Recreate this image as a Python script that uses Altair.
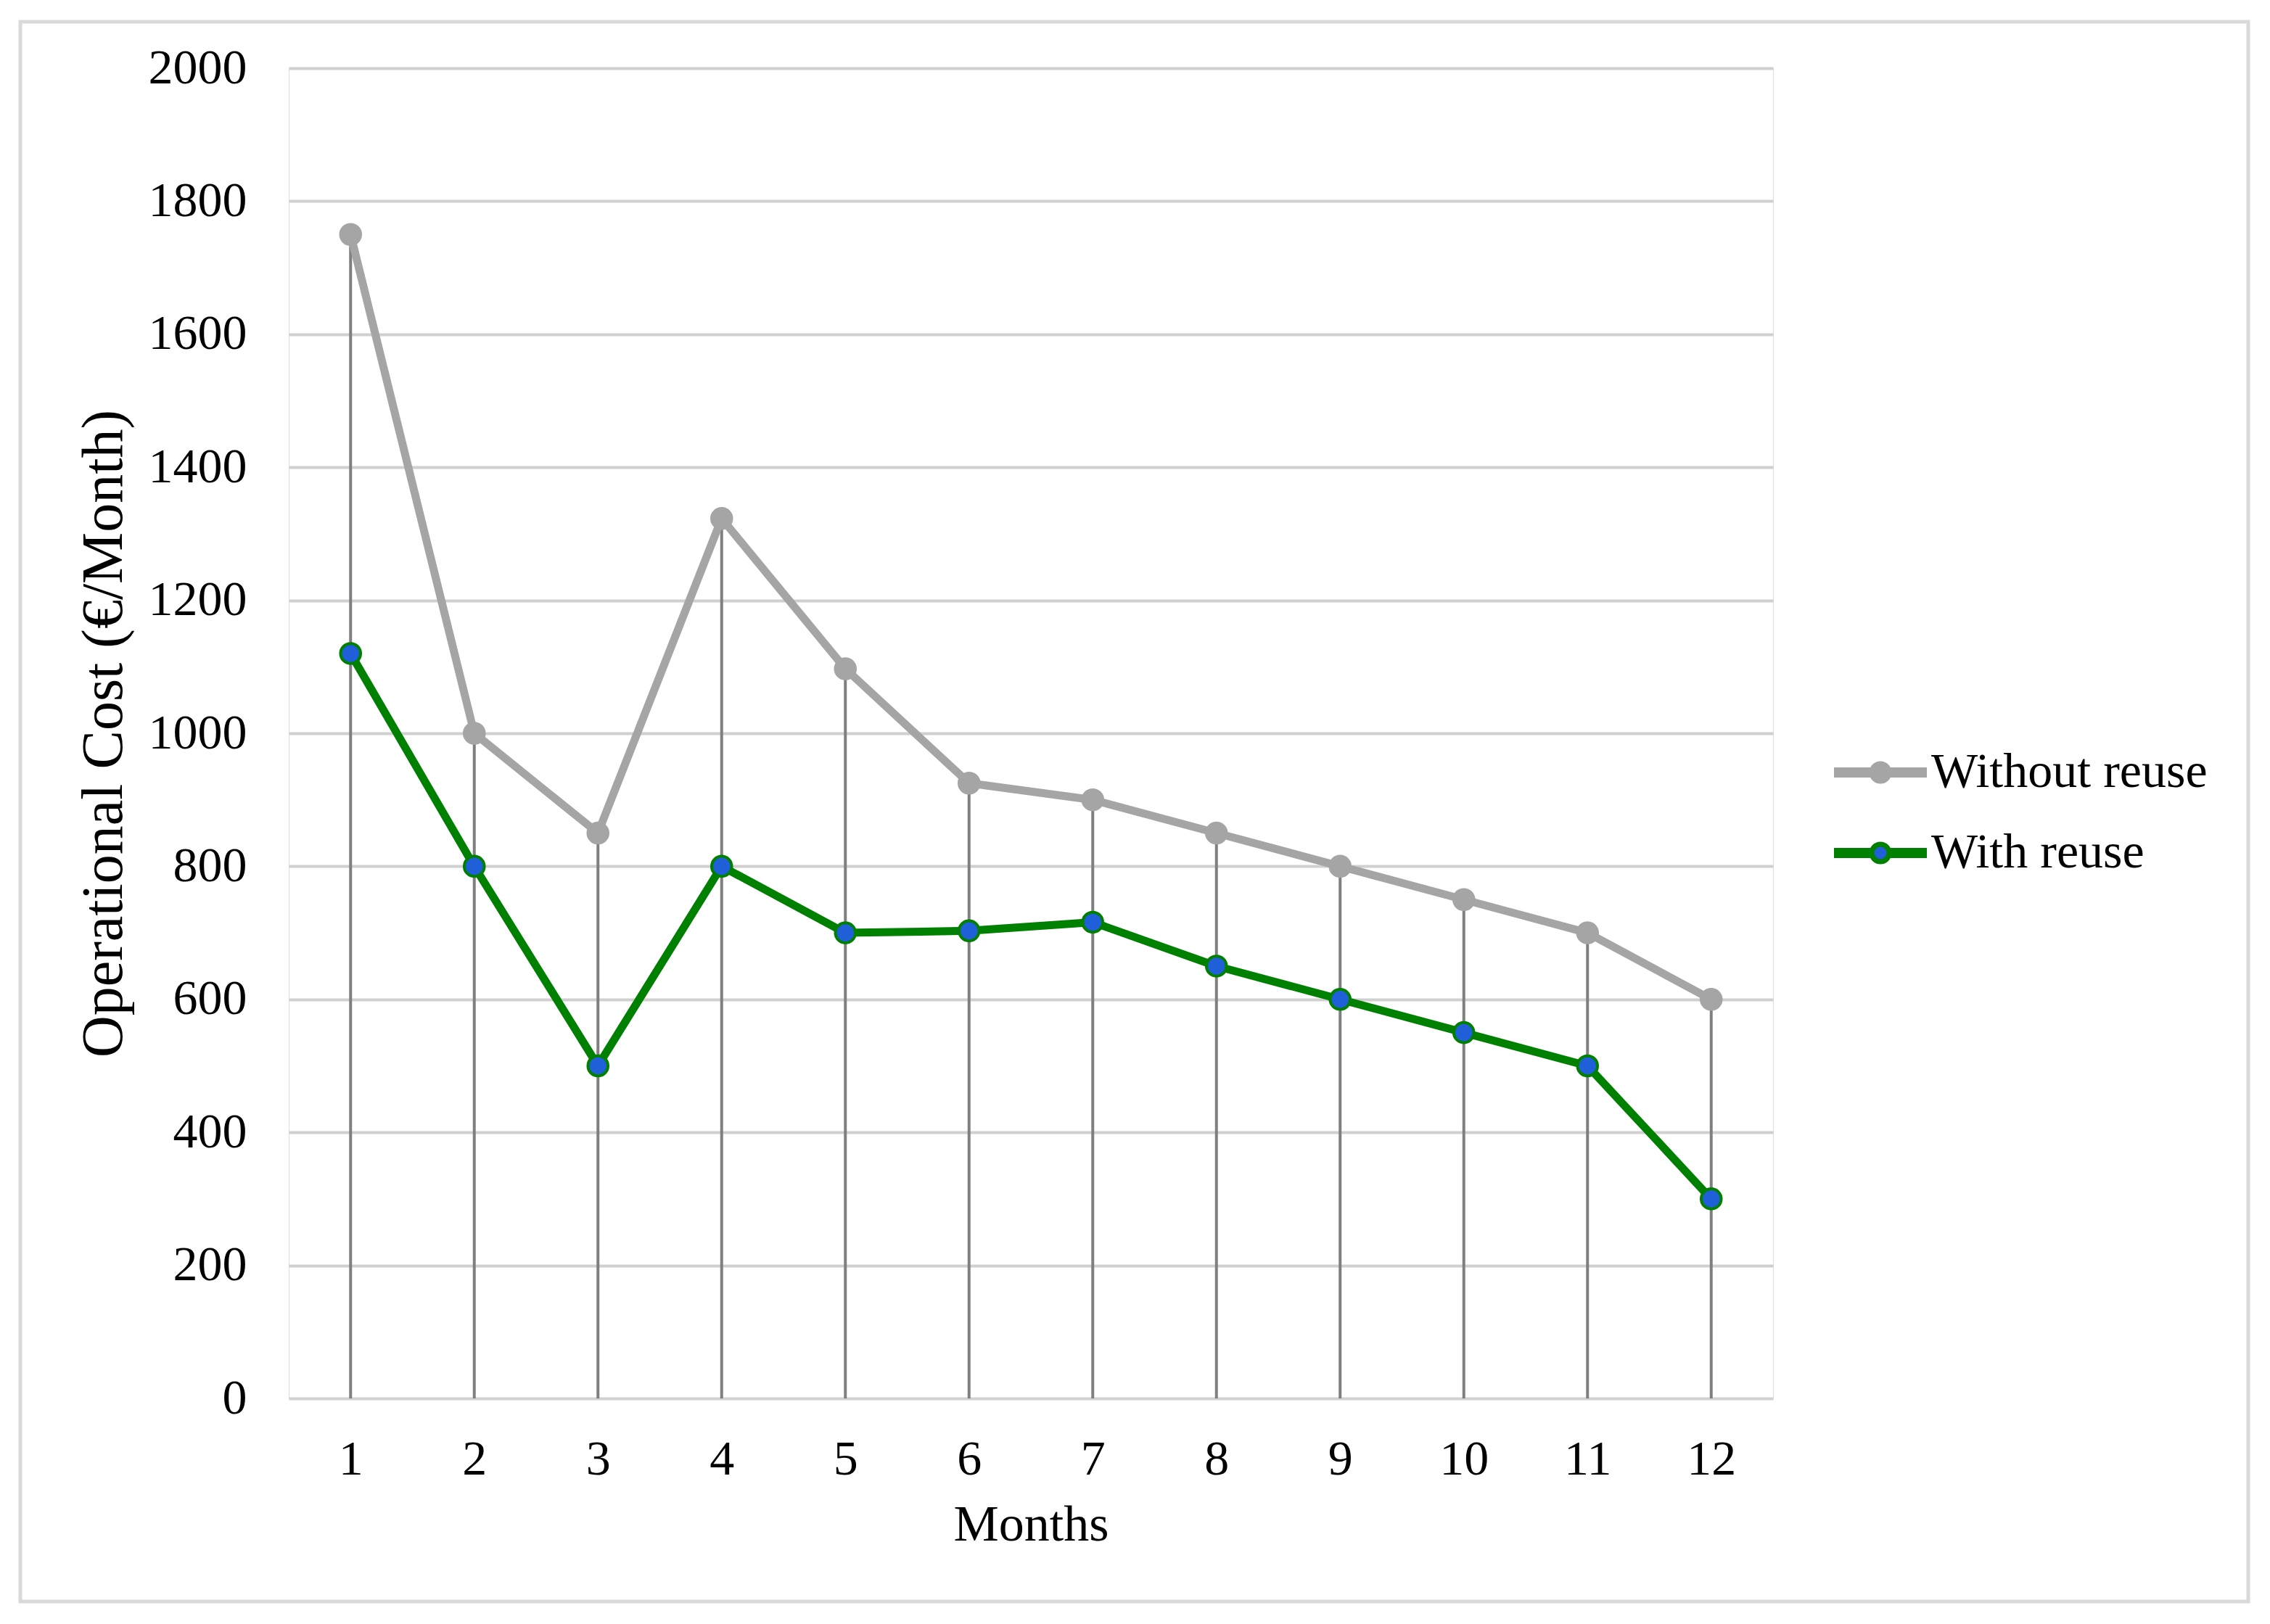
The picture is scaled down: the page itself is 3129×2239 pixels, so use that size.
import altair as alt
import pandas as pd

months = list(range(1, 13))
without_reuse = [1750, 1000, 850, 1323, 1097, 925, 900, 850, 800, 750, 700, 600]
with_reuse = [1120, 800, 500, 800, 700, 703, 716, 650, 600, 550, 500, 300]
series_names = ["Without reuse", "With reuse"]
y_ticks = list(range(0, 2001, 200))

rows = []
for m, a, b in zip(months, without_reuse, with_reuse):
    rows.append({"month": m, "series": series_names[0], "value": a})
    rows.append({"month": m, "series": series_names[1], "value": b})
df = pd.DataFrame(rows)

FONT = "Liberation Serif"
GRAY = "#A5A5A5"
GREEN = "#008000"
BLUE = "#1F5FD8"

x_scale = alt.Scale(domain=[0.5, 12.5], nice=False, zero=False)
y_scale = alt.Scale(domain=[0, 2000], nice=False)
color_scale = alt.Scale(domain=series_names, range=[GRAY, GREEN])
fill_scale = alt.Scale(domain=series_names, range=[GRAY, BLUE])

x_axis = alt.Axis(values=months, title="Months", grid=False, domain=False, ticks=False, tickSize=0,
                  labelFont=FONT, labelFontSize=68, labelColor="black", labelPadding=50,
                  titleFont=FONT, titleFontSize=70, titleFontWeight="normal", titleColor="black",
                  titlePadding=22, labelAngle=0, format="d")
y_axis = alt.Axis(values=y_ticks, title="Operational Cost (€/Month)", grid=True, gridColor="#D0D0D0",
                  gridWidth=4, domain=False, ticks=False, tickSize=0, format="d",
                  labelFont=FONT, labelFontSize=68, labelColor="black", labelPadding=58,
                  titleFont=FONT, titleFontSize=80, titleFontWeight="normal", titleColor="black",
                  titlePadding=20)

PATH = ("M -1,-0.058 L -0.198,-0.058 L -0.198,0.058 L -1,0.058 Z "
        "M 0.198,-0.058 L 1,-0.058 L 1,0.058 L 0.198,0.058 Z "
        "M 0.198,0 C 0.198,0.1094 0.1094,0.198 0,0.198 C -0.1094,0.198 -0.198,0.1094 -0.198,0 "
        "C -0.198,-0.1094 -0.1094,-0.198 0,-0.198 C 0.1094,-0.198 0.198,-0.1094 0.198,0 Z")

legend = alt.Legend(
    title=None, orient="none", legendX=2130, legendY=907,
    symbolType=PATH, symbolSize=14641, symbolStrokeWidth=7, symbolOpacity=1,
    symbolFillColor={"expr": "datum.value === 'With reuse' ? '%s' : '%s'" % (BLUE, GRAY)},
    labelFont=FONT, labelFontSize=68, labelColor="black", labelOffset=6,
    rowPadding=13, padding=0, labelLimit=1000,
)

x_enc = alt.X("month:Q", scale=x_scale, axis=x_axis)
y_enc = alt.Y("value:Q", scale=y_scale, axis=y_axis)

frame = alt.Chart(pd.DataFrame({"k": [0]})).mark_rect(
    filled=False, stroke="#D9D9D9", strokeWidth=5
).encode(x=alt.value(-370), x2=alt.value(2701), y=alt.value(-64), y2=alt.value(2114))

drops = alt.Chart(df).transform_aggregate(
    top="max(value)", groupby=["month"]
).transform_calculate(zero="0").mark_rule(color="#7F7F7F", strokeWidth=4).encode(
    x=x_enc, y=alt.Y("top:Q", scale=y_scale, axis=y_axis), y2="zero:Q"
)

lines = alt.Chart(df).mark_line(strokeJoin="round", strokeCap="round").encode(
    x=x_enc, y=y_enc,
    color=alt.Color("series:N", scale=color_scale, legend=legend),
    strokeWidth=alt.value(11),
)

points = alt.Chart(df).mark_point(shape="circle", filled=True, size=760, strokeWidth=4, opacity=1).encode(
    x=x_enc, y=y_enc,
    fill=alt.Fill("series:N", scale=fill_scale, legend=None),
    stroke=alt.Stroke("series:N", scale=color_scale, legend=None),
)

chart = alt.layer(frame, drops, lines, points).properties(
    width=2046, height=1834,
    autosize=alt.AutoSizeParams(type="none"),
    padding={"left": 390, "top": 86, "right": 674, "bottom": 300},
).configure_view(stroke=None).configure(background="white")

chart.save("out.html", embed_options={"renderer": "svg", "actions": False})
